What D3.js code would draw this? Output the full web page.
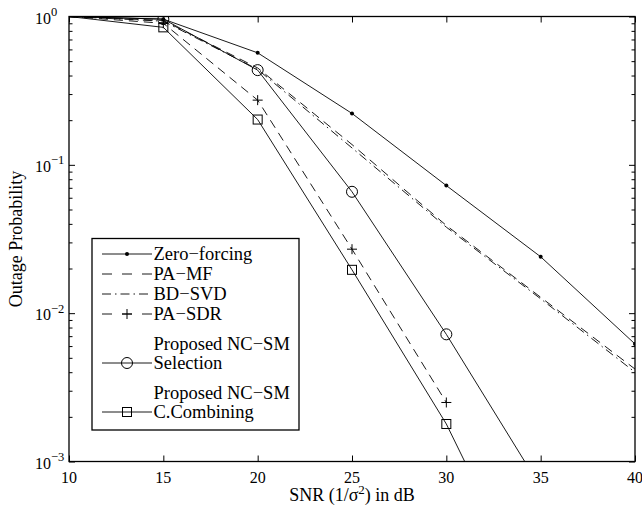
<!DOCTYPE html>
<html>
<head>
<meta charset="utf-8">
<script src="https://cdn.jsdelivr.net/npm/d3@7"></script>
<style>
  body { margin: 0; background: #fff; }
  svg { display: block; }
  text { font-family: "Liberation Serif", "Times New Roman", serif; fill: #000; }
</style>
</head>
<body>
<div id="chart"></div>
<script>
// data
const snr = [10, 15, 20, 25, 30, 35, 40];
const zeroForcing = [1, 0.96, 0.569, 0.222, 0.0725, 0.024, 0.0062];
const paMf = [1, 0.94, 0.45, 0.137, 0.039, 0.0128, 0.0042];
const bdSvd = [1, 0.93, 0.44, 0.13, 0.038, 0.0125, 0.0040];
const paSdr = [1, 0.9, 0.273, 0.027, 0.0025];
const ncSelection = [1, 0.96, 0.435, 0.0658, 0.0072, 0.00067];
const ncCombining = [1, 0.845, 0.202, 0.0196, 0.00179, 0.00009];

const xTicks = [10, 15, 20, 25, 30, 35, 40];
const yDecades = [-3, -2, -1, 0];

const series = [
  { name: ["Zero−forcing"], values: zeroForcing, dash: null, marker: "dot" },
  { name: ["PA−MF"], values: paMf, dash: "9,6", marker: null },
  { name: ["BD−SVD"], values: bdSvd, dash: "9,4,1.5,4", marker: null },
  { name: ["PA−SDR"], values: paSdr, dash: "9,6", marker: "plus" },
  { name: ["Proposed NC−SM", "Selection"], values: ncSelection, dash: null, marker: "circle" },
  { name: ["Proposed NC−SM", "C.Combining"], values: ncCombining, dash: null, marker: "square" }
];

const W = 642, H = 512;
const margin = { TOP: 16.5, BOTTOM: 50.5, LEFT: 69, RIGHT: 7 };
const w = W - margin.LEFT - margin.RIGHT;
const h = H - margin.TOP - margin.BOTTOM;

const svg = d3.select("#chart").append("svg")
  .attr("width", W).attr("height", H);

const g = svg.append("g")
  .attr("transform", `translate(${margin.LEFT}, ${margin.TOP})`);

const x = d3.scaleLinear().domain([10, 40]).range([0, w]);
const y = d3.scaleLog().domain([1e-3, 1]).range([h, 0]);

const majors = yDecades.map(e => Math.pow(10, e));
const minors = [];
yDecades.slice(0, -1).forEach(e => {
  for (let k = 2; k <= 9; k++) minors.push(k * Math.pow(10, e));
});

// ticks (inward, on all four sides)
function tickAxis(axis, tr) {
  const a = g.append("g").attr("transform", tr).call(axis);
  a.select(".domain").remove();
  a.selectAll("line").attr("stroke", "#000").attr("stroke-width", 1);
  a.selectAll("text").remove();
}
tickAxis(d3.axisBottom(x).tickValues(xTicks).tickSize(-6), `translate(0,${h})`);
tickAxis(d3.axisTop(x).tickValues(xTicks).tickSize(-6), "translate(0,0)");
tickAxis(d3.axisLeft(y).tickValues(majors).tickSize(-6), "translate(0,0)");
tickAxis(d3.axisLeft(y).tickValues(minors).tickSize(-3.5), "translate(0,0)");
tickAxis(d3.axisRight(y).tickValues(majors).tickSize(-6), `translate(${w},0)`);
tickAxis(d3.axisRight(y).tickValues(minors).tickSize(-3.5), `translate(${w},0)`);

// tick labels
g.selectAll(".xlab").data(xTicks).enter().append("text")
  .attr("class", "xlab")
  .attr("x", d => x(d)).attr("y", h + 21.5)
  .attr("text-anchor", "middle")
  .style("font-size", "16px")
  .text(d => d);

const yl = g.selectAll(".ylab").data(yDecades).enter().append("text")
  .attr("class", "ylab")
  .attr("x", -34).attr("y", d => y(Math.pow(10, d)) + 7)
  .style("font-size", "16px");
yl.append("tspan").text("10");
yl.append("tspan").attr("dy", -7.5).style("font-size", "12.5px")
  .text(d => d === 0 ? "0" : "−" + Math.abs(d));

// axis titles
const xt = svg.append("text")
  .attr("x", margin.LEFT + w / 2).attr("y", 501)
  .attr("text-anchor", "middle")
  .style("font-size", "18px");
xt.append("tspan").text("SNR (1/σ");
xt.append("tspan").attr("dy", -7).style("font-size", "13px").text("2");
xt.append("tspan").attr("dy", 7).text(") in dB");

svg.append("text")
  .attr("transform", `translate(22, ${margin.TOP + h / 2}) rotate(-90)`)
  .attr("text-anchor", "middle")
  .style("font-size", "18px")
  .text("Outage Probability");

// plot lines
g.append("clipPath").attr("id", "clip")
  .append("rect").attr("width", w).attr("height", h);
const plot = g.append("g").attr("clip-path", "url(#clip)");

const line = d3.line().x(d => x(d[0])).y(d => y(d[1]));

function drawMarker(sel, type, cx, cy) {
  if (type === "dot") {
    sel.append("circle").attr("cx", cx).attr("cy", cy).attr("r", 2).attr("fill", "#000");
  } else if (type === "circle") {
    sel.append("circle").attr("cx", cx).attr("cy", cy).attr("r", 5.5)
      .attr("fill", "none").attr("stroke", "#000").attr("stroke-width", 1);
  } else if (type === "square") {
    sel.append("rect").attr("x", cx - 4.5).attr("y", cy - 4.5).attr("width", 9).attr("height", 9)
      .attr("fill", "none").attr("stroke", "#000").attr("stroke-width", 1);
  } else if (type === "plus") {
    sel.append("path").attr("d", `M${cx - 5},${cy}H${cx + 5}M${cx},${cy - 5}V${cy + 5}`)
      .attr("stroke", "#000").attr("stroke-width", 1).attr("fill", "none");
  }
}

series.forEach(s => {
  const pts = s.values.map((v, i) => [snr[i], v]);
  plot.append("path")
    .datum(pts)
    .attr("d", line)
    .attr("fill", "none")
    .attr("stroke", "#000")
    .attr("stroke-width", 0.9)
    .attr("stroke-dasharray", s.dash);
  if (s.marker) {
    pts.slice(1).forEach(p => drawMarker(plot, s.marker, x(p[0]), y(p[1])));
  }
});

// frame
g.append("rect").attr("width", w).attr("height", h)
  .attr("fill", "none").attr("stroke", "#000").attr("stroke-width", 1.3);

// legend
const lg = svg.append("g");
const box = { x: 92, y: 238.5, w: 207, h: 191.5 };
lg.append("rect")
  .attr("x", box.x).attr("y", box.y).attr("width", box.w).attr("height", box.h)
  .attr("fill", "#fff").attr("stroke", "#000").attr("stroke-width", 1.3);

let cursor = 254;
series.forEach((s, i) => {
  const lines = s.name;
  lines.forEach((t, j) => {
    lg.append("text")
      .attr("x", 153.5).attr("y", cursor + j * 19)
      .attr("dy", "0.34em")
      .style("font-size", "18.5px")
      .text(t);
  });
  const my = cursor + (lines.length - 1) * 19;
  lg.append("line")
    .attr("x1", 102).attr("x2", 152).attr("y1", my).attr("y2", my)
    .attr("stroke", "#000").attr("stroke-width", 0.9)
    .attr("stroke-dasharray", s.dash ? (s.dash === "9,6" ? "10,10" : s.dash) : null);
  if (s.marker) drawMarker(lg, s.marker, 127, my);
  const next = series[i + 1];
  cursor = my + (next && next.name.length > 1 ? 30 : 20);
});
</script>
</body>
</html>
